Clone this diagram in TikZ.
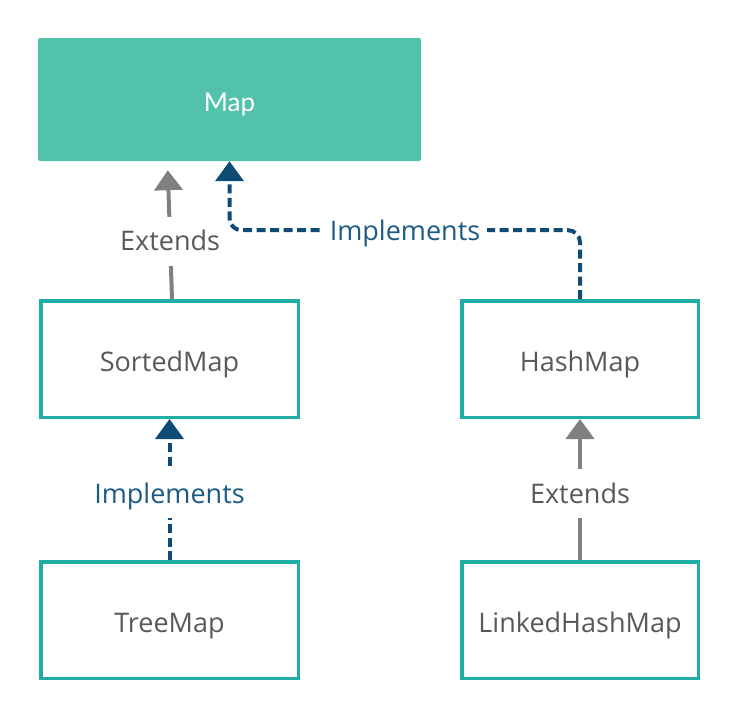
\documentclass[tikz,border=0pt]{standalone}
\usepackage{fontspec}
\setmainfont{Open Sans}
\newfontfamily\latofont{Lato}
\usetikzlibrary{arrows.meta,calc}
\definecolor{mapfill}{HTML}{52C2AA}
\definecolor{boxline}{HTML}{1FADA5}
\definecolor{txtgray}{HTML}{595959}
\definecolor{arrgray}{HTML}{808080}
\definecolor{implblue}{HTML}{0F4C75}
\definecolor{impltxt}{HTML}{1D5A85}
\begin{document}
\begin{tikzpicture}[x=1pt,y=-1pt,
  mapbox/.style={fill=mapfill,rounded corners=2pt,minimum width=383pt,minimum height=123pt,
    text=white,font=\latofont\fontsize{26}{30}\selectfont,inner sep=0pt,
    text height=23pt,text depth=0pt},
  classbox/.style={draw=boxline,line width=3.5pt,fill=white,minimum height=116.5pt,
    text=txtgray,font=\fontsize{27}{32}\selectfont,inner sep=0pt,
    text height=25pt,text depth=0pt},
  extline/.style={draw=arrgray,line width=4pt,-{Triangle[width=28pt,length=20pt]}},
  implline/.style={draw=implblue,line width=4pt,dash pattern=on 9pt off 4.5pt,
    -{Triangle[width=28pt,length=20pt]}},
  lblbase/.style={fill=white,font=\fontsize{27}{32}\selectfont,inner xsep=7pt,inner ysep=15pt,
    text height=19pt,text depth=0pt},
  extlbl/.style={lblbase,text=txtgray},
  impllbl/.style={lblbase,text=impltxt}]
\useasboundingbox (0,0) rectangle (741,720);
\node[mapbox] (map) at (229.5,99.5) {Map};
\node[classbox,minimum width=257.5pt] (sm) at (169.5,359) {SortedMap};
\node[classbox,minimum width=236.5pt] (hm) at (580,359) {HashMap};
\node[classbox,minimum width=257.5pt] (tm) at (169.5,620) {TreeMap};
\node[classbox,minimum width=236.5pt] (lhm) at (580,620) {LinkedHashMap};
% Extends SortedMap -> Map
\draw[extline] ($(sm.north)+(2.5,0)$) -- ($(map.south west)+(130,9)$)
  node[extlbl,pos=0.45] {Extends};
% Implements HashMap -> Map
\draw[implline,rounded corners=12pt] (hm.north) |- ($(map.south)+(0,69)$) -- (map.south);
\node[impllbl,inner ysep=4pt] (implA) at (405,231) {Implements};
% Implements TreeMap -> SortedMap
\draw[implline] (tm.north) -- (sm.south) node[impllbl,pos=0.47] {Implements};
% Extends LinkedHashMap -> HashMap
\draw[extline] (lhm.north) -- (hm.south) node[extlbl,pos=0.47] {Extends};
\end{tikzpicture}
\end{document}
